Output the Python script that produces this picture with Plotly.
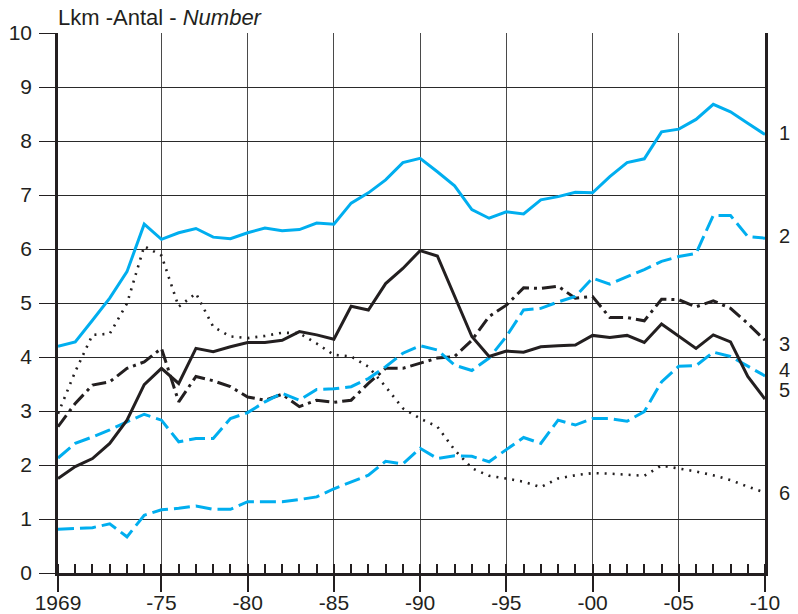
import plotly.graph_objects as go

BLUE = "#00aeef"
BLACK = "#231f20"
FONT = "Liberation Sans, Arial, sans-serif"

years = list(range(1969, 2011))

s1 = [4.20, 4.28, 4.68, 5.09, 5.58, 6.46, 6.18, 6.30, 6.38, 6.22,
      6.19, 6.30, 6.39, 6.34, 6.36, 6.48, 6.46, 6.85, 7.04, 7.28,
      7.60, 7.68, 7.43, 7.17, 6.73, 6.57, 6.69, 6.65, 6.91, 6.97,
      7.05, 7.04, 7.34, 7.60, 7.67, 8.17, 8.22, 8.40, 8.68, 8.54,
      8.33, 8.12]
s2 = [2.13, 2.40, 2.52, 2.65, 2.80, 2.94, 2.83, 2.43, 2.49, 2.49,
      2.86, 2.97, 3.17, 3.33, 3.20, 3.40, 3.41, 3.45, 3.60, 3.82,
      4.07, 4.21, 4.13, 3.85, 3.75, 3.98, 4.38, 4.87, 4.90, 5.02,
      5.12, 5.46, 5.35, 5.48, 5.62, 5.77, 5.86, 5.92, 6.62, 6.62,
      6.23, 6.20]
s3 = [2.71, 3.14, 3.48, 3.54, 3.79, 3.91, 4.16, 3.17, 3.64, 3.56,
      3.45, 3.26, 3.20, 3.31, 3.08, 3.20, 3.16, 3.20, 3.51, 3.79,
      3.79, 3.88, 3.98, 4.01, 4.31, 4.75, 4.96, 5.28, 5.27, 5.31,
      5.09, 5.12, 4.73, 4.73, 4.67, 5.07, 5.06, 4.93, 5.04, 4.90,
      4.62, 4.31]
s4 = [0.81, 0.83, 0.84, 0.91, 0.67, 1.07, 1.17, 1.20, 1.24, 1.18,
      1.18, 1.32, 1.32, 1.32, 1.36, 1.41, 1.56, 1.69, 1.81, 2.07,
      2.02, 2.31, 2.12, 2.17, 2.16, 2.06, 2.28, 2.51, 2.40, 2.83,
      2.74, 2.86, 2.86, 2.81, 2.99, 3.54, 3.83, 3.84, 4.09, 4.01,
      3.83, 3.65]
s5 = [1.75, 1.97, 2.12, 2.40, 2.83, 3.49, 3.79, 3.51, 4.16, 4.10,
      4.19, 4.27, 4.27, 4.31, 4.47, 4.41, 4.33, 4.94, 4.87, 5.36,
      5.64, 5.97, 5.87, 5.12, 4.38, 4.01, 4.11, 4.09, 4.19, 4.21,
      4.22, 4.40, 4.36, 4.40, 4.27, 4.61, 4.39, 4.16, 4.41, 4.28,
      3.64, 3.22]
s6 = [2.95, 3.73, 4.41, 4.43, 4.99, 6.05, 5.88, 4.93, 5.18, 4.56,
      4.38, 4.35, 4.39, 4.45, 4.44, 4.25, 4.04, 4.01, 3.82, 3.45,
      3.05, 2.86, 2.71, 2.28, 1.94, 1.80, 1.75, 1.69, 1.59, 1.75,
      1.81, 1.85, 1.84, 1.82, 1.80, 1.99, 1.94, 1.88, 1.81, 1.72,
      1.60, 1.49]

tick_years = [1969, 1975, 1980, 1985, 1990, 1995, 2000, 2005, 2010]
tick_text = ["1969", "-75", "-80", "-85", "-90", "-95", "-00", "-05", "-10"]

end_labels = ["1.", "2.", "3.", "4.", "5.", "6."]
end_label_y = [8.15, 6.24, 4.25, 3.76, 3.39, 1.48]

series = [
    (s6, BLACK, 2.6, "2px,6px"),
    (s4, BLUE, 3, "16px,6px"),
    (s3, BLACK, 3, "14px,5px,3px,5px"),
    (s2, BLUE, 3, "16px,6px"),
    (s5, BLACK, 3, "solid"),
    (s1, BLUE, 3, "solid"),
]

fig = go.Figure()
for vals, color, width, dash in series:
    fig.add_scatter(x=years, y=vals, mode="lines",
                    line=dict(color=color, width=width, dash=dash),
                    showlegend=False, hoverinfo="skip")

for txt, yv in zip(end_labels, end_label_y):
    fig.add_annotation(x=2010, y=yv, text=txt, showarrow=False,
                       xanchor="left", xshift=12,
                       font=dict(family=FONT, size=20, color=BLACK))

# the page body adds an 8px offset, so the figure is a little smaller
fig.add_annotation(xref="paper", yref="paper", x=0, y=1, xanchor="left",
                   yanchor="bottom", yshift=5, xshift=-1, showarrow=False,
                   height=20, borderpad=0, valign="middle",
                   text="Lkm -Antal - <i>Number</i>",
                   font=dict(family=FONT, size=22, color=BLACK))

fig.update_layout(
    width=790, height=606,
    margin=dict(l=50, r=33, t=25, b=41),
    plot_bgcolor="white", paper_bgcolor="white",
    font=dict(family=FONT, size=21, color=BLACK),
)
fig.update_xaxes(
    range=[1969, 2010], tickvals=tick_years, ticktext=tick_text,
    showgrid=True, gridcolor="#4a4a4a", gridwidth=1,
    showline=True, linecolor=BLACK, linewidth=2.5,
    ticks="outside", ticklen=16, tickwidth=1.5, tickcolor=BLACK,
    ticklabelstandoff=-7,
    minor=dict(dtick=1, tick0=1969, ticks="inside", ticklen=9,
               tickwidth=1.5, tickcolor=BLACK, showgrid=False),
    zeroline=False, automargin=False,
)
fig.update_yaxes(
    range=[0, 10], dtick=1,
    showgrid=True, gridcolor="#2a2a2a", gridwidth=1.2,
    showline=True, linecolor=BLACK, linewidth=2.5, mirror=True,
    ticks="outside", ticklen=16, tickwidth=1.2, tickcolor=BLACK,
    ticklabelstandoff=3,
    zeroline=False, automargin=False,
)

fig.write_html("out.html")
